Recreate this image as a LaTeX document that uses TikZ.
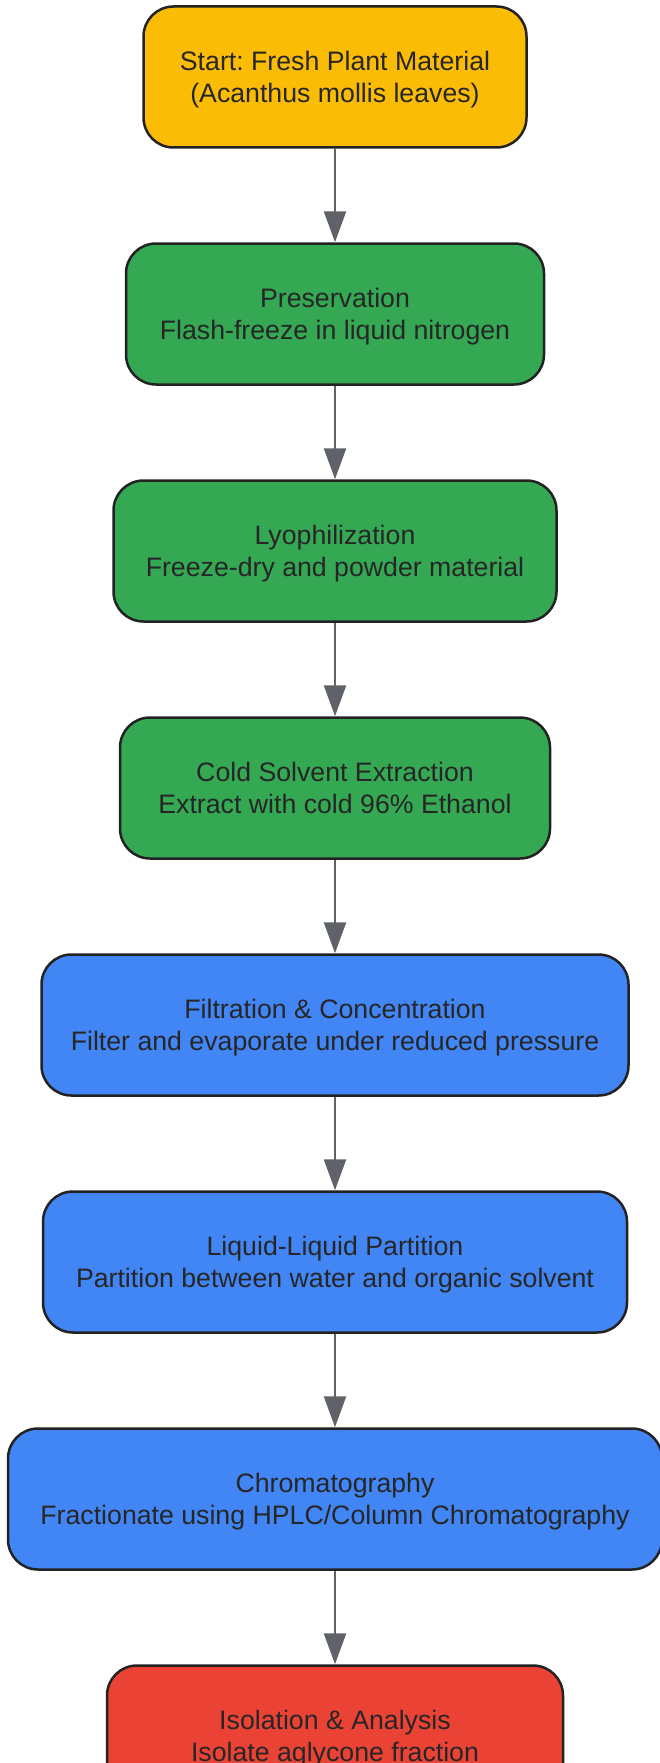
\documentclass[tikz,border=0pt]{standalone}
\usepackage{fontspec}
\setmainfont{Liberation Sans}
\frenchspacing
\usetikzlibrary{arrows.meta}
\definecolor{startfill}{HTML}{FBBC05}
\definecolor{prepfill}{HTML}{34A853}
\definecolor{procfill}{HTML}{4285F4}
\definecolor{endfill}{HTML}{EA4335}
\definecolor{boxline}{HTML}{222222}
\definecolor{textdark}{HTML}{262626}
\definecolor{arrowgray}{HTML}{5F6368}
\begin{document}
\begin{tikzpicture}[x=1pt, y=1pt, font=\fontsize{26.7}{31.5}\selectfont, line join=round,
	box/.style={draw=boxline, line width=2.5pt, rounded corners=30pt, minimum height=141pt, align=center, text=textdark, inner sep=0pt, text depth=0pt},
	flow/.style={draw=arrowgray, line width=2.5pt, -{Triangle[length=31pt,width=22pt]}}]
			\def\xc{335} \def\dy{237}
			\useasboundingbox (0,0) rectangle (660,-1763);
			\node[box, fill=startfill, minimum width=383pt] (start) at (\xc,-77) {Start: Fresh Plant Material\\(Acanthus mollis leaves)};
			\node[box, fill=prepfill, minimum width=418pt] (preserve) at (\xc,-77-\dy) {Preservation\\Flash-freeze in liquid nitrogen};
			\node[box, fill=prepfill, minimum width=443pt] (lyo) at (\xc,-77-2*\dy) {Lyophilization\\Freeze-dry and powder material};
			\node[box, fill=prepfill, minimum width=430pt] (extract) at (\xc,-77-3*\dy) {Cold Solvent Extraction\\Extract with cold 96\% Ethanol};
			\node[box, fill=procfill, minimum width=587pt] (filter) at (\xc,-77-4*\dy) {Filtration \& Concentration\\Filter and evaporate under reduced pressure};
			\node[box, fill=procfill, minimum width=584pt] (partition) at (\xc,-77-5*\dy) {Liquid-Liquid Partition\\Partition between water and organic solvent};
			\node[box, fill=procfill, minimum width=654pt] (chrom) at (\xc,-77-6*\dy) {Chromatography\\Fractionate using HPLC/Column Chromatography};
			\node[box, fill=endfill, minimum width=456pt] (isolate) at (\xc,-77-7*\dy) {Isolation \& Analysis\\Isolate aglycone fraction};
			\foreach \a/\b in {start/preserve, preserve/lyo, lyo/extract, extract/filter, filter/partition, partition/chrom, chrom/isolate}
			\draw[flow] (\a) -- (\b);
		\end{tikzpicture}
\end{document}
